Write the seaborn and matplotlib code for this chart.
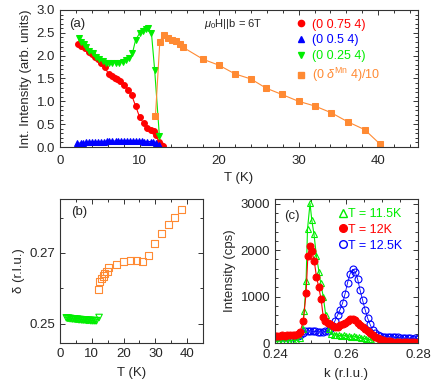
import numpy as np
import pandas as pd
import seaborn as sns
import matplotlib
matplotlib.use("Agg")
import matplotlib.pyplot as plt
from matplotlib.lines import Line2D
from matplotlib.ticker import MultipleLocator

# ---- data, panel (a): integrated intensity vs T
T_red = [2.3, 2.7, 3.1, 3.6, 4.0, 4.4, 4.8, 5.2, 5.6, 6.1, 6.5, 6.9, 7.2, 7.6, 8.1, 8.6, 9.0, 9.5,
         10.0, 10.5, 11.0, 11.4, 11.8, 12.1, 12.4, 12.7, 13.0]
I_red = [2.26, 2.22, 2.16, 2.09, 2.03, 1.98, 1.92, 1.85, 1.76, 1.60, 1.56, 1.52, 1.48, 1.44, 1.36, 1.24,
         1.14, 0.90, 0.66, 0.52, 0.41, 0.38, 0.36, 0.26, 0.12, 0.05, 0.02]

T_blue = [2.2, 2.6, 2.9, 3.3, 3.7, 4.0, 4.4, 4.8, 5.1, 5.5, 5.9, 6.2, 6.6, 7.0, 7.3, 7.7, 8.1, 8.4,
          8.8, 9.2, 9.5, 9.9, 10.3, 10.6, 11.0, 11.4, 11.7, 12.1, 12.5]
I_blue = [0.08, 0.09, 0.09, 0.10, 0.10, 0.11, 0.11, 0.12, 0.12, 0.12, 0.13, 0.13, 0.13, 0.13, 0.13,
          0.14, 0.13, 0.14, 0.13, 0.14, 0.13, 0.13, 0.13, 0.12, 0.12, 0.12, 0.11, 0.08, 0.04]

T_green = [2.4, 2.7, 3.0, 3.3, 3.7, 4.1, 4.5, 4.9, 5.4, 5.8, 6.2, 6.6, 7.0, 7.4, 7.9, 8.3, 8.7, 9.1,
           9.5, 10.0, 10.4, 10.8, 11.1, 11.5, 11.9, 12.5]
I_green = [2.38, 2.30, 2.26, 2.19, 2.11, 2.05, 1.98, 1.92, 1.88, 1.85, 1.85, 1.85, 1.85, 1.85, 1.87,
           1.90, 1.94, 2.05, 2.34, 2.49, 2.55, 2.58, 2.60, 2.49, 1.69, 0.23]

T_orange = [12.0, 12.55, 13.05, 13.6, 14.1, 14.6, 15.1, 15.5, 18.0, 20.0, 22.0, 24.0, 25.9, 27.9,
            30.0, 32.0, 34.1, 36.2, 38.3, 40.2]
I_orange = [0.68, 2.31, 2.46, 2.39, 2.35, 2.33, 2.25, 2.18, 1.92, 1.79, 1.60, 1.49, 1.29, 1.15,
            1.00, 0.90, 0.75, 0.55, 0.38, 0.07]

# ---- panel (b): incommensurability delta vs T
T_delta_or = [12.0, 12.5, 13.1, 13.6, 14.1, 14.8, 15.4, 17.9, 20.1, 22.2, 24.0, 26.0, 27.9, 29.7,
              32.0, 34.2, 36.1, 38.2]
delta_or = [0.2596, 0.2619, 0.2628, 0.2635, 0.2642, 0.2649, 0.2658, 0.2667, 0.2677, 0.2678, 0.2678,
            0.2675, 0.2693, 0.2728, 0.2756, 0.2780, 0.2800, 0.2824]
T_delta_gr = [2.0, 2.4, 2.7, 3.1, 3.4, 3.8, 4.1, 4.5, 4.8, 5.2, 5.5, 5.9, 6.2, 6.6, 6.9, 7.3, 7.6,
              8.0, 8.3, 8.7, 9.0, 9.4, 9.7, 10.1, 10.4, 10.8, 11.1, 11.5, 12.3]
delta_gr = [0.2517, 0.2516, 0.2516, 0.2515, 0.2515, 0.2514, 0.2514, 0.2514, 0.2513, 0.2513, 0.2513,
            0.2512, 0.2512, 0.2512, 0.2511, 0.2511, 0.2511, 0.2511, 0.2510, 0.2510, 0.2510, 0.2510,
            0.2509, 0.2509, 0.2509, 0.2509, 0.2509, 0.2509, 0.2518]

# ---- panel (c): k scans
k_g = [0.2400, 0.2410, 0.2420, 0.2430, 0.2440, 0.2450, 0.2460, 0.2470, 0.2477, 0.2482, 0.2487,
       0.2491, 0.2498, 0.2503, 0.2509, 0.2516, 0.2523, 0.2528, 0.2535, 0.2542, 0.2550, 0.2557,
       0.2564, 0.2571, 0.2578, 0.2585, 0.2592, 0.2599, 0.2606, 0.2613, 0.2620, 0.2627, 0.2634,
       0.2641, 0.2648, 0.2655, 0.2662, 0.2669, 0.2680, 0.2700, 0.2720, 0.2740, 0.2760, 0.2780, 0.2800]
I_g = [40, 40, 45, 45, 50, 55, 60, 100, 300, 700, 1345, 2458, 3008, 2646, 2350, 1865, 1540, 1287,
       998, 600, 300, 190, 170, 180, 165, 160, 170, 150, 150, 140, 150, 130, 120, 110, 100, 90, 80,
       70, 60, 50, 40, 35, 30, 25, 20]

k_r = [0.2400, 0.2407, 0.2414, 0.2421, 0.2428, 0.2435, 0.2442, 0.2449, 0.2456, 0.2463, 0.2470,
       0.2479, 0.2487, 0.2492, 0.2498, 0.2503, 0.2510, 0.2516, 0.2522, 0.2529, 0.2535, 0.2541,
       0.2548, 0.2555, 0.2562, 0.2569, 0.2576, 0.2583, 0.2590, 0.2597, 0.2604, 0.2611, 0.2618,
       0.2625, 0.2632, 0.2639, 0.2646, 0.2653, 0.2660, 0.2667, 0.2674, 0.2681, 0.2688, 0.2695,
       0.2702, 0.2709, 0.2716, 0.2723, 0.2730, 0.2740, 0.2750, 0.2760, 0.2770, 0.2780, 0.2790, 0.2800]
I_r = [150, 160, 150, 170, 160, 170, 180, 170, 180, 200, 230, 470, 1070, 1880, 2097, 1988, 1757,
       1430, 1215, 940, 564, 477, 430, 400, 370, 340, 350, 380, 400, 430, 470, 510, 520, 490, 430,
       380, 340, 300, 260, 220, 180, 140, 110, 80, 60, 50, 40, 35, 30, 30, 25, 25, 20, 20, 20, 20]

k_b = [0.2400, 0.2407, 0.2414, 0.2421, 0.2428, 0.2435, 0.2442, 0.2449, 0.2456, 0.2463, 0.2470,
       0.2477, 0.2484, 0.2491, 0.2498, 0.2505, 0.2512, 0.2519, 0.2526, 0.2533, 0.2540, 0.2547,
       0.2554, 0.2561, 0.2568, 0.2575, 0.2582, 0.2589, 0.2596, 0.2603, 0.2610, 0.2617, 0.2624,
       0.2631, 0.2638, 0.2645, 0.2652, 0.2659, 0.2666, 0.2673, 0.2680, 0.2687, 0.2694, 0.2701,
       0.2708, 0.2715, 0.2722, 0.2729, 0.2736, 0.2743, 0.2750, 0.2757, 0.2764, 0.2771, 0.2778,
       0.2785, 0.2792, 0.2799]
I_b = [120, 130, 120, 130, 130, 140, 130, 140, 150, 160, 180, 220, 250, 260, 260, 250, 250, 240,
       240, 230, 250, 250, 300, 370, 480, 600, 720, 860, 1060, 1300, 1490, 1585, 1540, 1380, 1140,
       925, 720, 540, 400, 280, 210, 170, 150, 140, 130, 140, 130, 130, 120, 120, 110, 110, 100,
       110, 100, 90, 110, 90]

RED, BLUE, GREEN, ORANGE = "#ff0000", "#0000ff", "#00ee00", "#ff8a33"

sns.set_style("ticks")
plt.rcParams["font.family"] = ["Liberation Sans", "DejaVu Sans"]
plt.rcParams["mathtext.fontset"] = "custom"
plt.rcParams["mathtext.rm"] = "Liberation Sans"
plt.rcParams["mathtext.it"] = "Liberation Sans:italic"
plt.rcParams["axes.edgecolor"] = "#333333"
plt.rcParams["axes.linewidth"] = 0.8

fig = plt.figure(figsize=(4.36, 3.92), dpi=100)
ax_a = fig.add_axes([0.1376, 0.625, 0.821, 0.3495])
ax_b = fig.add_axes([0.1376, 0.125, 0.328, 0.367])
ax_c = fig.add_axes([0.6307, 0.125, 0.328, 0.367])

FS = 9.5


def style(ax, xpad):
    ax.tick_params(which="both", direction="in", top=True, right=True, labelsize=FS,
                   color="#333333", width=0.7)
    ax.tick_params(which="major", length=3.5)
    ax.tick_params(which="minor", length=2)
    ax.tick_params(axis="x", which="major", pad=xpad)


# panel (a)
sns.lineplot(x=T_red, y=I_red, ax=ax_a, color=RED, marker="o", markersize=4.2,
             markeredgecolor=RED, linewidth=0.8)
sns.lineplot(x=T_blue, y=I_blue, ax=ax_a, color=BLUE, marker="^", markersize=4.2,
             markeredgecolor=BLUE, linewidth=0.8)
sns.lineplot(x=T_green, y=I_green, ax=ax_a, color=GREEN, marker="v", markersize=4.2,
             markeredgecolor=GREEN, linewidth=0.8)
sns.lineplot(x=T_orange, y=I_orange, ax=ax_a, color=ORANGE, marker="s", markersize=4.0,
             markeredgecolor=ORANGE, linewidth=0.8)
ax_a.set_xlim(0, 45)
ax_a.set_ylim(0, 3.0)
ax_a.xaxis.set_major_locator(MultipleLocator(10))
ax_a.xaxis.set_minor_locator(MultipleLocator(2))
ax_a.yaxis.set_major_locator(MultipleLocator(0.5))
ax_a.yaxis.set_minor_locator(MultipleLocator(0.1))
ax_a.yaxis.set_major_formatter(matplotlib.ticker.FormatStrFormatter("%.1f"))
ax_a.set_xlabel("T (K)", fontsize=FS, labelpad=3)
ax_a.set_ylabel("Int. Intensity (arb. units)", fontsize=FS, labelpad=3)
style(ax_a, 6)
ax_a.text(1.2, 2.69, "(a)", fontsize=FS, va="center")
ax_a.text(18.1, 2.69, r"$\mu_0$H||b = 6T", fontsize=8, va="center")
h_a = [Line2D([], [], ls="none", marker=m, color=c, markersize=4.5)
       for m, c in [("o", RED), ("^", BLUE), ("v", GREEN), ("s", ORANGE)]]
ax_a.legend(h_a, ["(0 0.75 4)", "(0 0.5 4)", "(0 0.25 4)", r"(0 $\delta^{\rm Mn}$ 4)/10"],
            labelcolor=[RED, BLUE, GREEN, ORANGE], frameon=False, fontsize=9,
            loc="upper left", bbox_to_anchor=(0.635, 1.0), handlelength=0.8,
            handletextpad=0.5, labelspacing=0.3, borderaxespad=0.3)

# panel (b)
sns.scatterplot(x=T_delta_gr, y=delta_gr, ax=ax_b, marker="v", s=22, facecolor="none",
                edgecolor=GREEN, linewidth=0.8)
sns.scatterplot(x=T_delta_or, y=delta_or, ax=ax_b, marker="s", s=26, facecolor="none",
                edgecolor=ORANGE, linewidth=0.8)
ax_b.set_xlim(0, 45)
ax_b.set_ylim(0.2446, 0.2852)
ax_b.xaxis.set_major_locator(MultipleLocator(10))
ax_b.xaxis.set_minor_locator(MultipleLocator(5))
ax_b.yaxis.set_major_locator(MultipleLocator(0.02))
ax_b.yaxis.set_minor_locator(MultipleLocator(0.01))
ax_b.set_yticks([0.25, 0.27])
ax_b.set_yticklabels(["0.25", "0.27"])
ax_b.set_xlabel("T (K)", fontsize=FS, labelpad=5)
ax_b.set_ylabel("δ (r.l.u.)", fontsize=FS, labelpad=3)
style(ax_b, 3.5)
ax_b.text(3.5, 0.2815, "(b)", fontsize=FS, va="center")

# panel (c)
sns.lineplot(x=k_b, y=I_b, ax=ax_c, color=BLUE, marker="o", markersize=5, markerfacecolor="none",
             markeredgecolor=BLUE, markeredgewidth=0.8, linewidth=0.6)
sns.lineplot(x=k_g, y=I_g, ax=ax_c, color=GREEN, marker="^", markersize=5, markerfacecolor="none",
             markeredgecolor=GREEN, markeredgewidth=0.8, linewidth=0.8)
sns.lineplot(x=k_r, y=I_r, ax=ax_c, color=RED, marker="o", markersize=5, markeredgecolor=RED,
             linewidth=0.8)
ax_c.set_xlim(0.24, 0.28)
ax_c.set_ylim(0, 3100)
ax_c.xaxis.set_major_locator(MultipleLocator(0.02))
ax_c.xaxis.set_minor_locator(MultipleLocator(0.005))
ax_c.yaxis.set_major_locator(MultipleLocator(1000))
ax_c.yaxis.set_minor_locator(MultipleLocator(200))
ax_c.xaxis.set_major_formatter(matplotlib.ticker.FormatStrFormatter("%.2f"))
ax_c.set_xlabel("k (r.l.u.)", fontsize=FS, labelpad=5)
ax_c.set_ylabel("Intensity (cps)", fontsize=FS, labelpad=3)
style(ax_c, 4.5)
ax_c.text(0.2425, 2730, "(c)", fontsize=FS, va="center")
h_c = [Line2D([], [], ls="none", marker="^", markerfacecolor="none", markeredgecolor=GREEN,
              markersize=5.5),
       Line2D([], [], ls="none", marker="o", color=RED, markersize=5.5),
       Line2D([], [], ls="none", marker="o", markerfacecolor="none", markeredgecolor=BLUE,
              markersize=5.5)]
ax_c.legend(h_c, ["T = 11.5K", "T = 12K", "T = 12.5K"], labelcolor=[GREEN, RED, BLUE],
            frameon=False, fontsize=9, loc="upper left", bbox_to_anchor=(0.40, 0.99),
            handlelength=0.6, handletextpad=0.1, labelspacing=0.3, borderaxespad=0.2)

fig.savefig("out.png", dpi=100)
